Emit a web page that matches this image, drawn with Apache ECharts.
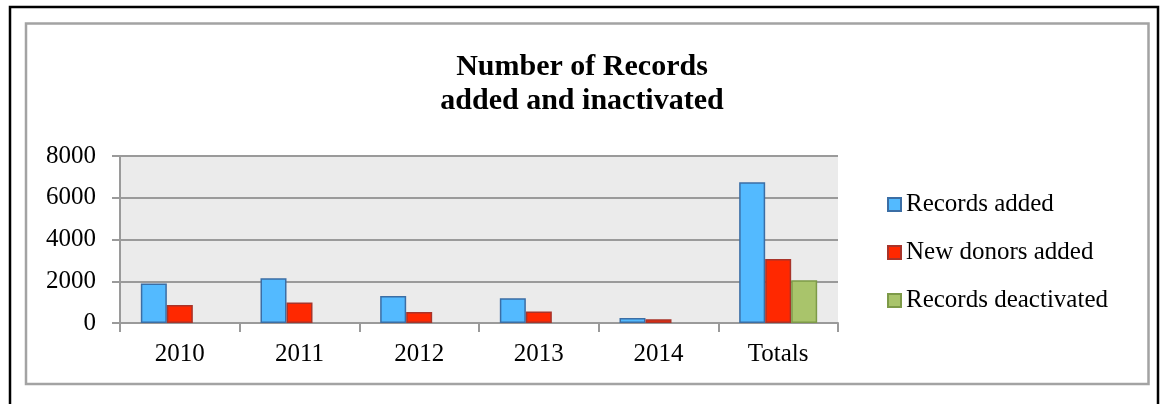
<!DOCTYPE html>
<html>
<head>
<meta charset="utf-8">
<script src="https://cdn.jsdelivr.net/npm/echarts@6/dist/echarts.min.js"></script>
<style>
html,body{margin:0;padding:0;background:#fff;}
#chart{width:1168px;height:404px;}
</style>
</head>
<body>
<div id="chart"></div>
<script>
var categories = ['2010', '2011', '2012', '2013', '2014', 'Totals'];
var recordsAdded = [1890, 2140, 1290, 1185, 240, 6745];
var newDonorsAdded = [860, 980, 530, 550, 180, 3070];
var recordsDeactivated = ['-', '-', '-', '-', '-', 2045];
var seriesNames = ['Records added', 'New donors added', 'Records deactivated'];
var yTicks = [0, 2000, 4000, 6000, 8000];

var FONT = '"Liberation Serif", "Times New Roman", serif';
var chart = echarts.init(document.getElementById('chart'), null, {renderer: 'canvas'});
var gridColor = '#9a9a9a';

chart.setOption({
  backgroundColor: '#ffffff',
  animation: false,
  title: {
    text: 'Number of Records\nadded and inactivated',
    left: 582,
    textAlign: 'center',
    top: 50,
    padding: 0,
    textStyle: {fontFamily: FONT, fontWeight: 'bold', fontSize: 30, lineHeight: 34, color: '#000'}
  },
  legend: {
    orient: 'vertical',
    left: 887,
    top: 192,
    padding: 0,
    itemWidth: 13,
    itemHeight: 13,
    itemGap: 23,
    icon: 'rect',
    textStyle: {fontFamily: FONT, fontSize: 25, lineHeight: 25, color: '#000'},
    data: seriesNames
  },
  grid: {
    left: 120, right: 330, top: 156, bottom: 81,
    show: true, backgroundColor: '#ebebeb', borderWidth: 0
  },
  xAxis: {
    type: 'category',
    data: categories,
    axisLine: {lineStyle: {color: gridColor, width: 2}},
    axisTick: {show: true, length: 9, lineStyle: {color: gridColor, width: 2}},
    axisLabel: {fontFamily: FONT, fontSize: 25, color: '#000', margin: 19}
  },
  yAxis: {
    type: 'value',
    min: yTicks[0], max: yTicks[yTicks.length - 1], interval: 2000,
    axisLine: {show: true, lineStyle: {color: gridColor, width: 2}},
    axisTick: {show: true, length: 8, lineStyle: {color: gridColor, width: 2}},
    splitLine: {show: true, lineStyle: {color: gridColor, width: 2}},
    axisLabel: {fontFamily: FONT, fontSize: 25, color: '#000', margin: 24, padding: [5, 0, 0, 0],
      formatter: function (v) { return String(v); }}
  },
  series: [
    {
      name: seriesNames[0], type: 'bar', data: recordsAdded,
      barWidth: 26, barGap: '0%',
      itemStyle: {color: '#53baff', borderColor: '#3b6ea5', borderWidth: 1.5}
    },
    {
      name: seriesNames[1], type: 'bar', data: newDonorsAdded,
      barWidth: 26, barGap: '0%',
      itemStyle: {color: '#ff2800', borderColor: '#a8342a', borderWidth: 1.5}
    },
    {
      name: seriesNames[2], type: 'bar', data: recordsDeactivated,
      barWidth: 26, barGap: '0%',
      itemStyle: {color: '#a9c46b', borderColor: '#7d9a48', borderWidth: 1.5}
    }
  ],
  graphic: [
    {type: 'rect', z: 100, silent: true, shape: {x: 10, y: 7, width: 1148, height: 430},
      style: {fill: 'none', stroke: '#000', lineWidth: 2.5}},
    {type: 'rect', z: 100, silent: true, shape: {x: 26, y: 23.5, width: 1122.5, height: 360.5},
      style: {fill: 'none', stroke: '#a3a3a3', lineWidth: 2.5}}
  ]
});
</script>
</body>
</html>
